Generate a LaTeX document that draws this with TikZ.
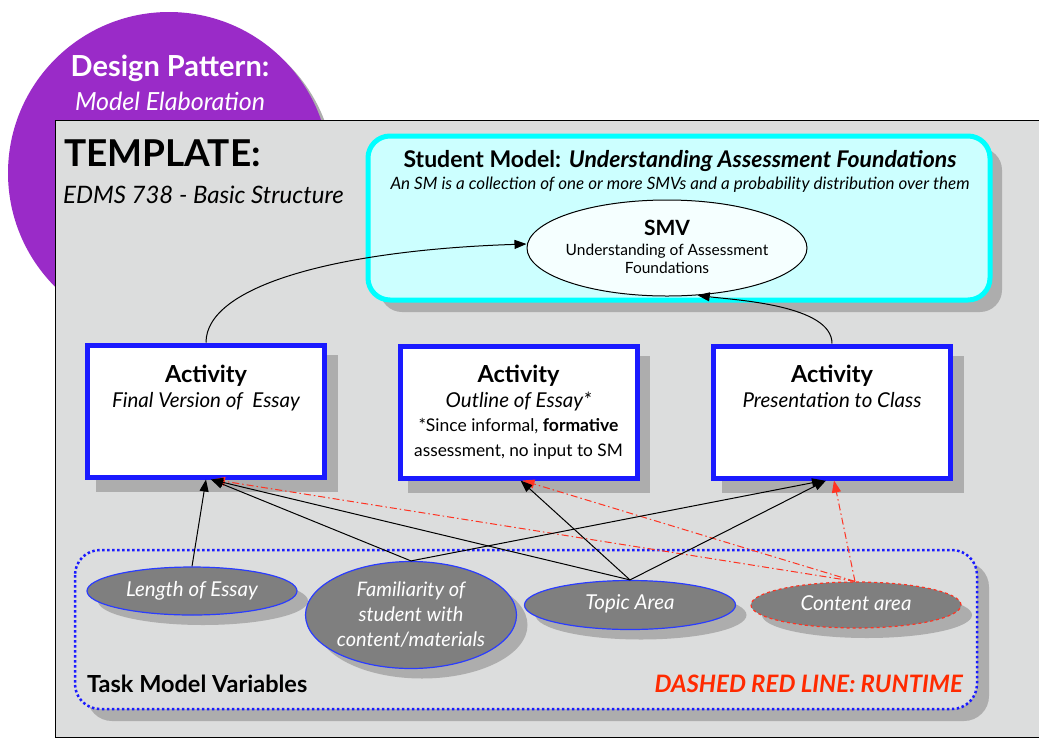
\documentclass[tikz,border=0pt]{standalone}
\usepackage{fontspec}
\setmainfont{Lato}
\usetikzlibrary{shapes.geometric,arrows.meta,calc}
\definecolor{bg}{HTML}{DCDDDD}
\definecolor{shd}{HTML}{ADADAD}
\definecolor{purp}{HTML}{9A2BC8}
\definecolor{cyanb}{HTML}{00FFFF}
\definecolor{cyanf}{HTML}{CCFFFF}
\definecolor{smvf}{HTML}{F5FFFF}
\definecolor{actb}{HTML}{1A1AFF}
\definecolor{tmvgray}{HTML}{7F7F7F}
\definecolor{ellb}{HTML}{2A3CFF}
\definecolor{runred}{HTML}{FF2A00}
\definecolor{arrred}{HTML}{FF3322}
\newcommand{\fs}[1]{\fontsize{#1}{#1}\selectfont}
\tikzset{
  actbox/.style={draw=actb, line width=5pt, fill=white, minimum width=237pt, minimum height=132pt, inner sep=0pt},
  actshadow/.style={fill=shd, minimum width=242pt, minimum height=137pt, inner sep=0pt, draw=none},
  tmv/.style={ellipse, fill=tmvgray, draw=ellb, line width=1.2pt, inner sep=0pt, text=white, font=\itshape\fs{20.5}, align=center},
  tmvshadow/.style={ellipse, fill=shd, draw=none, inner sep=0pt},
  blk/.style={-{Triangle[length=12pt,width=9pt]}, line width=1pt, black},
  rdd/.style={-{Triangle[length=12pt,width=9pt]}, line width=1pt, arrred, dash pattern=on 7pt off 3pt on 1.5pt off 3pt},
  lbl/.style={anchor=base, inner sep=0pt}
}
\begin{document}
\begin{tikzpicture}[x=1pt,y=-1pt]
\useasboundingbox (0,0) rectangle (1039,740);
\fill[white] (0,0) rectangle (1039,740);
% design pattern circle
\fill[shd] (174,178) circle (161);
\fill[purp] (169,173) circle (161);
\node[lbl, text=white, font=\bfseries\fs{29}] (dp) at (170,76) {Design Pattern:};
\node[lbl, text=white, font=\itshape\fs{25}] (me) at (170,110) {Model Elaboration};
% template box
\draw[fill=bg, line width=1pt] (55,120) rectangle (1045,737);
\node[anchor=base west, inner sep=0pt, font=\bfseries\fs{37}] (tpl) at (64,166) {TEMPLATE:};
\node[anchor=base west, inner sep=0pt, font=\itshape\fs{24}] (edms) at (63,203) {EDMS 738 - Basic Structure};
% student model
\fill[shd, rounded corners=22pt] (380,148) rectangle (1002,312);
\draw[cyanb, line width=5pt, fill=cyanf, rounded corners=22pt] (368,136) rectangle (990,300);
\node[lbl, font=\fs{23}] (smt) at (680,167) {\textbf{Student Model:} \textbf{\textit{Understanding Assessment Foundations}}};
\node[lbl, font=\itshape\fs{17}] (sms) at (680,189) {An SM is a collection of one or more SMVs and a probability distribution over them};
\node[ellipse, draw, line width=1pt, fill=smvf, minimum width=280pt, minimum height=96pt, inner sep=0pt] (smv) at (667,248) {};
\node[lbl, font=\bfseries\fs{21}] (smvt) at (667,235) {SMV};
\node[lbl, font=\fs{15.5}] (smv1) at (667,255) {Understanding of Assessment};
\node[lbl, font=\fs{15.5}] (smv2) at (667,273) {Foundations};
% activities
\node[actshadow] (s1) at (217,423) {};
\node[actshadow] (s2) at (529,424) {};
\node[actshadow] (s3) at (843,424) {};
\node[actbox] (a1) at (206,411) {};
\node[actbox] (a2) at (518.5,412) {};
\node[actbox] (a3) at (832,412) {};
\node[lbl, font=\bfseries\fs{23.5}] (a1t) at (206,382) {Activity};
\node[lbl, font=\itshape\fs{20.5}] (a1s) at (206,407) {Final Version of\ \ Essay};
\node[lbl, font=\bfseries\fs{23.5}] (a2t) at (518.5,382) {Activity};
\node[lbl, font=\itshape\fs{20.5}] (a2s) at (518.5,407) {Outline of Essay*};
\node[lbl, font=\fs{17.5}] (a2n1) at (518.5,431) {*Since informal, \textbf{formative}};
\node[lbl, font=\fs{17.3}] (a2n2) at (518.5,456) {assessment, no input to SM};
\node[lbl, font=\bfseries\fs{23.5}] (a3t) at (832,382) {Activity};
\node[lbl, font=\itshape\fs{20.5}] (a3s) at (832,407) {Presentation to Class};
% task model variables
\fill[shd, rounded corners=25pt] (87,562) rectangle (989,721);
\draw[actb, line width=2.5pt, dash pattern=on 2.5pt off 2.5pt, fill=bg, rounded corners=25pt] (75,550) rectangle (977,709);
\node[anchor=base west, inner sep=0pt, font=\bfseries\fs{23.5}] (tmvl) at (87,692) {Task Model Variables};
\node[anchor=base east, inner sep=0pt, text=runred, font=\bfseries\itshape\fs{24}] (run) at (963,692) {DASHED RED LINE: RUNTIME};
% ellipses
\node[tmvshadow, minimum width=210pt, minimum height=48pt] (le_s) at (203,601) {};
\node[tmvshadow, minimum width=211pt, minimum height=107pt] (fa_s) at (422,625) {};
\node[tmvshadow, minimum width=211pt, minimum height=49pt] (tp_s) at (641,615) {};
\node[tmvshadow, minimum width=210pt, minimum height=46pt] (ca_s) at (867,615) {};
\node[tmv, minimum width=210pt, minimum height=48pt] (le) at (192,591) {Length of Essay};
\node[tmv, font=\itshape\fs{20}, minimum width=211pt, minimum height=107pt] (fa) at (411,615) {Familiarity of\\[5pt]student with\\[5pt]content/materials};
\node[tmv, minimum width=211pt, minimum height=49pt] (tp) at (630,605) {\raisebox{5pt}{Topic Area}};
\node[tmv, draw=arrred, dashed, minimum width=210pt, minimum height=46pt] (ca) at (856,605) {\raisebox{4pt}{Content area}};
% curved arrows to SMV
\draw[blk] (a1.north) .. controls (206,285) and (340,250) .. ([yshift=4pt]smv.west);
\draw[blk] (a3.north) .. controls (832,305) and (735,300) .. (smv.-57);
% red runtime arrows
\draw[rdd] ([xshift=-1pt]ca.north) -- ([xshift=7pt]a1.south);
\draw[rdd] ([xshift=-1pt]ca.north) -- ([xshift=4pt]a2.south);
\draw[rdd] ([xshift=-1pt]ca.north) -- ([xshift=2pt]a3.south);
% black arrows
\draw[blk] (le.north) -- ([xshift=0pt]a1.south);
\draw[blk] (fa.north) -- ([xshift=5pt]a1.south);
\draw[blk] (fa.north) -- ([xshift=-8pt]a3.south);
\draw[blk] (tp.north) -- ([xshift=5pt]a1.south);
\draw[blk] (tp.north) -- ([xshift=2pt]a2.south);
\draw[blk] (tp.north) -- ([xshift=-6pt]a3.south);
\end{tikzpicture}
\end{document}
